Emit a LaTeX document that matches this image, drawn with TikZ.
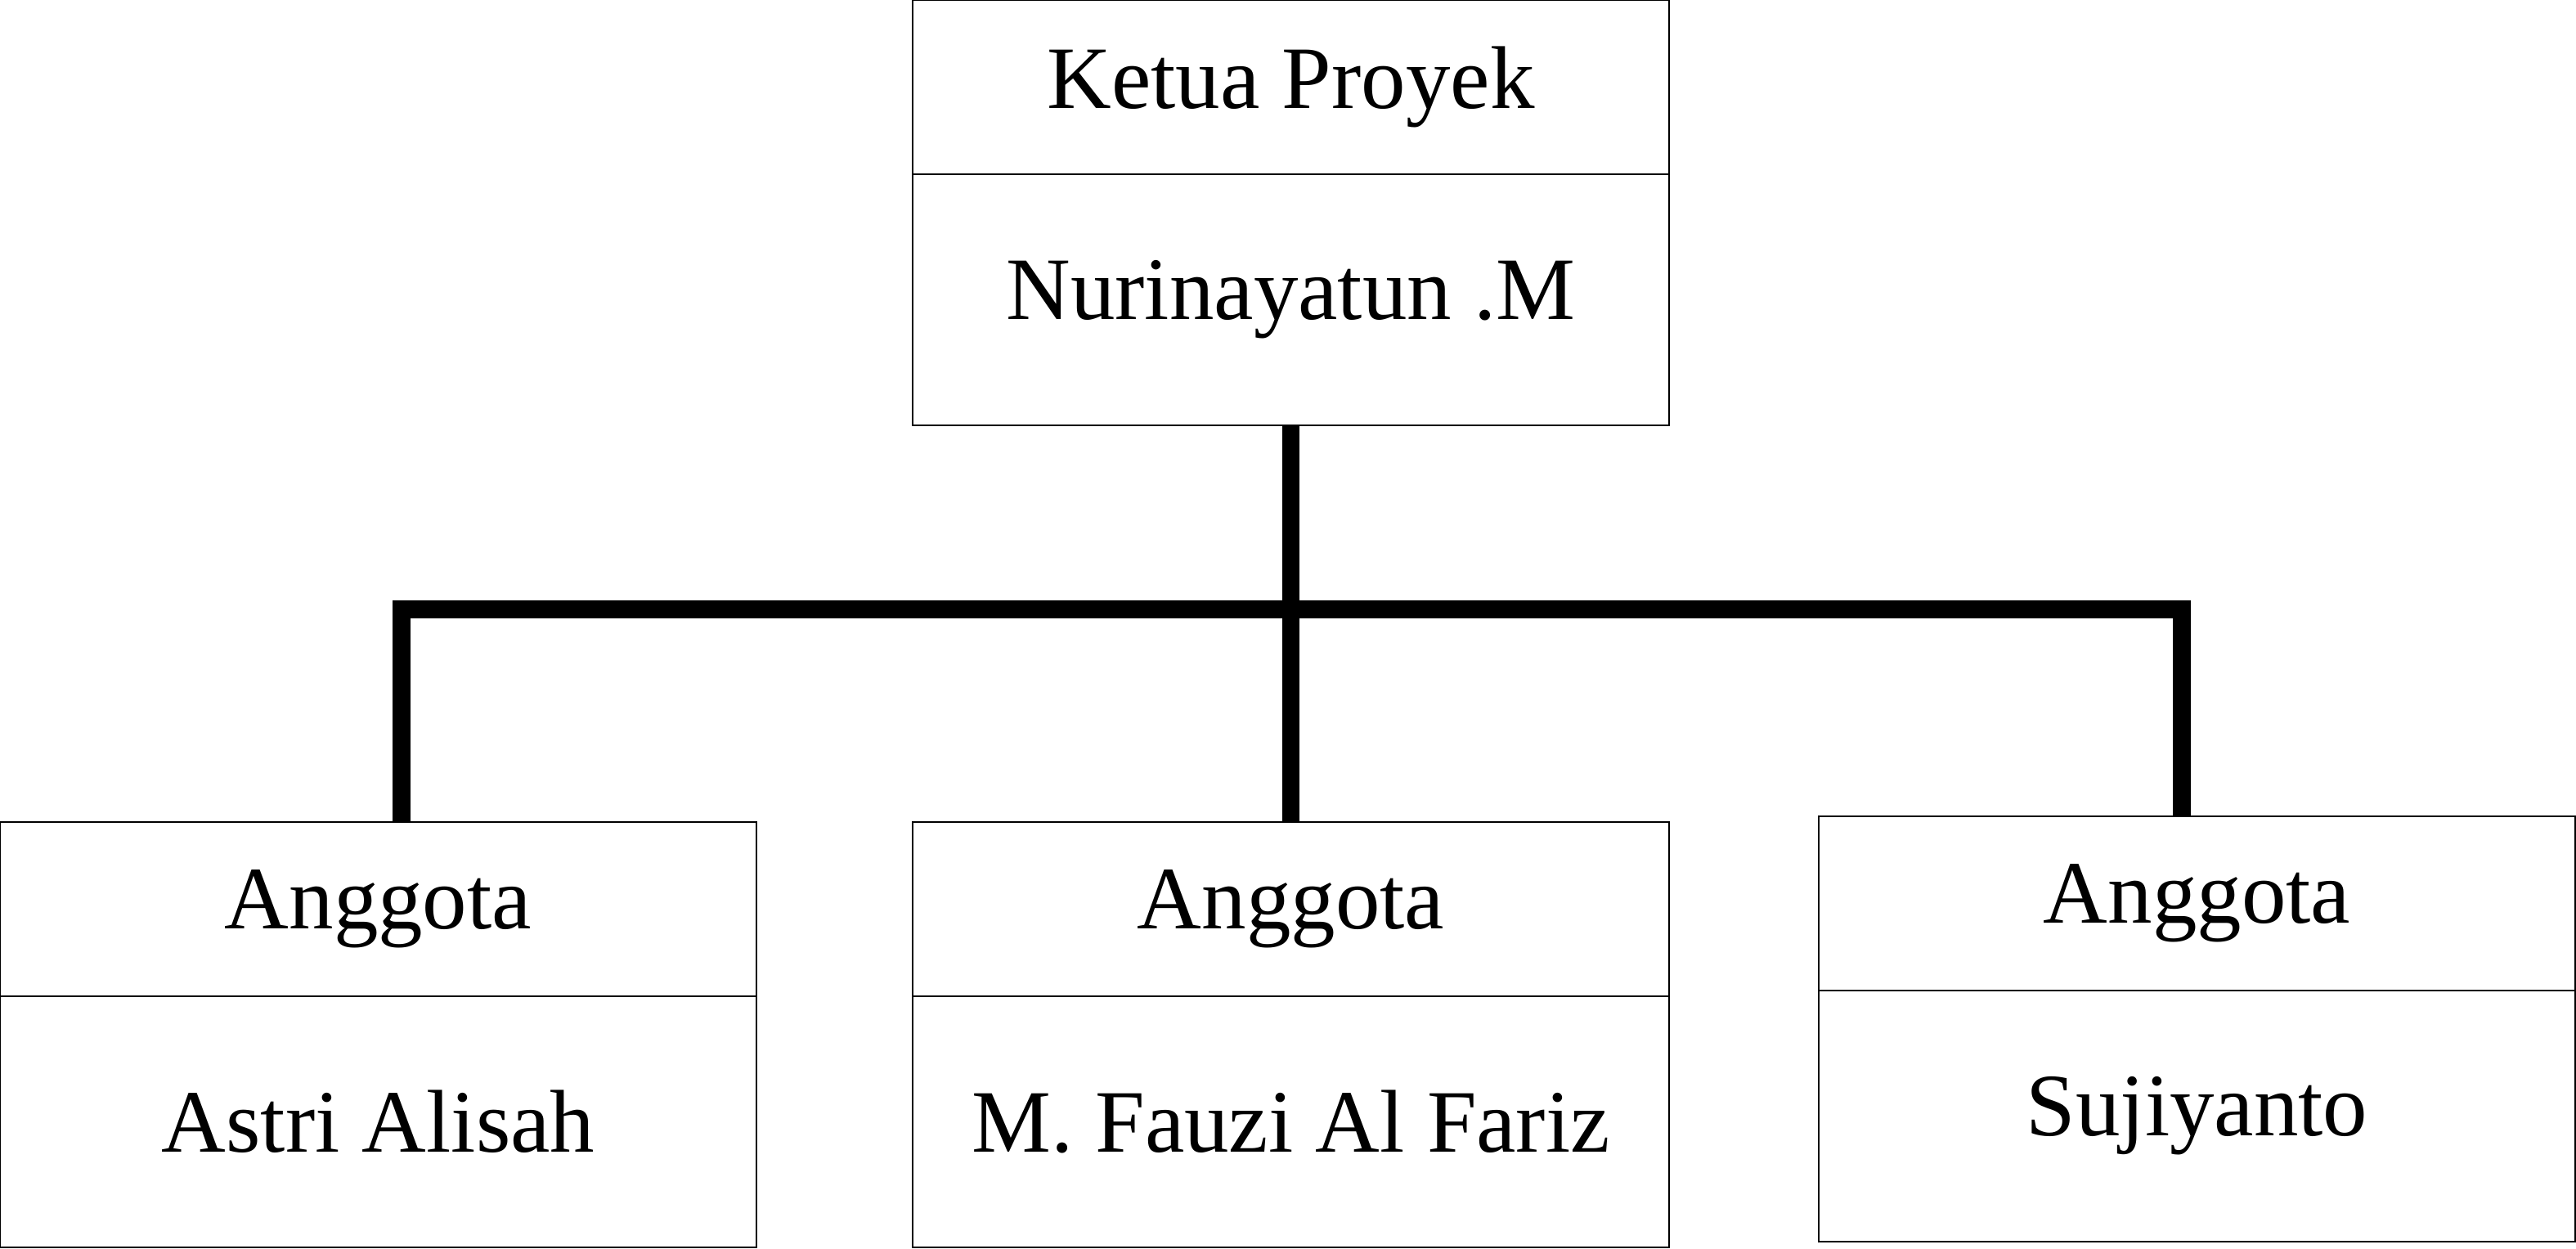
\documentclass[tikz,border=0pt]{standalone}
\usepackage{fontspec}
\setmainfont{Liberation Serif}
\usetikzlibrary{positioning}
\begin{document}
\begin{tikzpicture}[
    node distance=0pt,
    jabatan/.style={rectangle, draw, line width=0.6pt, minimum width=9.25cm, minimum height=2.13cm, inner sep=0pt, outer sep=0pt, align=center, font=\fontsize{31}{36}\selectfont},
    nama/.style={jabatan, minimum height=3.07cm},
    connector/.style={line width=6.2pt, line join=miter}
]
    \useasboundingbox (0,0) rectangle (31.5,15.26);

    % Top box: project leader
    \node[jabatan, anchor=north west] (ketua) at (11.16, 15.26) {Ketua Proyek};
    \node[nama, below=of ketua] (ketuanama) {Nurinayatun .M};

    % Bottom layer: members
    \node[jabatan, anchor=north west] (anggota1) at (0, 5.21) {Anggota};
    \node[nama, below=of anggota1] (nama1) {Astri Alisah};
    \node[jabatan, anchor=north west] (anggota2) at (11.16, 5.21) {Anggota};
    \node[nama, below=of anggota2] (nama2) {M. Fauzi Al Fariz};
    \node[jabatan, anchor=north west] (anggota3) at (22.24, 5.28) {Anggota};
    \node[nama, below=of anggota3] (nama3) {Sujiyanto};

    % Corners of the horizontal bar
    \coordinate (kiri) at (4.91, 7.81);
    \coordinate (kanan) at (26.68, 7.81);

    % Connectors from leader to members
    \draw[connector] (ketuanama.south) -- (ketuanama.south |- anggota2.north);
    \draw[connector] (kiri |- anggota1.north) -- (kiri) -- (kanan) -- (kanan |- anggota3.north);
\end{tikzpicture}
\end{document}
